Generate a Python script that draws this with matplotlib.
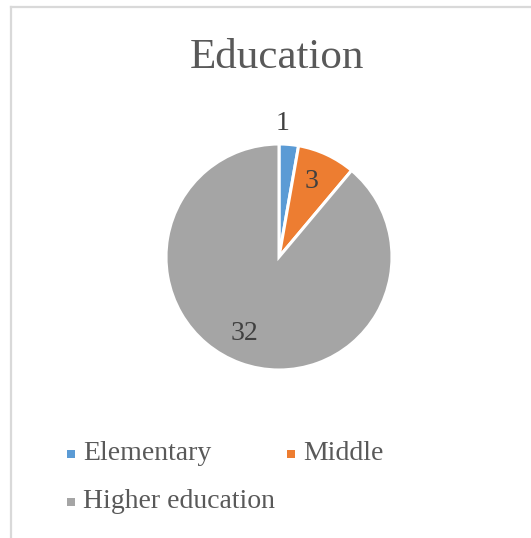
import matplotlib.pyplot as plt
from matplotlib.lines import Line2D

labels = ['Elementary', 'Middle', 'Higher education']
counts = [1, 3, 32]
colors = ['#5B9BD5', '#ED7D31', '#A5A5A5']

plt.rcParams['font.family'] = ['Liberation Serif', 'DejaVu Serif']

W, H = 531, 538
fig = plt.figure(figsize=(W / 100, H / 100), dpi=100)
fig.patch.set_facecolor('white')

# chart frame, only top and left edges are visible
fig.add_artist(Line2D([11 / W, 11 / W], [0, 1 - 7 / H], transform=fig.transFigure,
                      color='#D9D9D9', lw=1.6))
fig.add_artist(Line2D([11 / W, 1], [1 - 7 / H, 1 - 7 / H], transform=fig.transFigure,
                      color='#D9D9D9', lw=1.6))

fig.text(277 / W, 1 - 58 / H, 'Education', ha='center', va='center',
         fontsize=31, color='#595959')

# pie box centred at (279, 257) with radius ~113 px
r = 113
ax = fig.add_axes([(279 - r) / W, 1 - (257 + r) / H, 2 * r / W, 2 * r / H])
wedges, _ = ax.pie(counts, colors=colors, startangle=90, counterclock=False,
                   wedgeprops=dict(edgecolor='white', linewidth=2.2))
ax.set_xlim(-1, 1)
ax.set_ylim(-1, 1)
ax.set_aspect('equal')

# data labels
label_pos = [(283, 124), (312, 182), (244, 333)]
for (x, y), v in zip(label_pos, counts):
    fig.text(x / W, 1 - y / H, str(v), ha='center', va='center',
             fontsize=20, color='#404040')

leg_pos = [(70.5, 454), (290.5, 454), (70.5, 502)]
for (x, y), c, lab in zip(leg_pos, colors, labels):
    fig.patches.append(plt.Rectangle(((x - 4) / W, 1 - (y + 4) / H), 8 / W, 8 / H,
                                     transform=fig.transFigure, facecolor=c,
                                     edgecolor='none'))
    fig.text((x + 12.5) / W, 1 - y / H, lab, ha='left', va='center',
             fontsize=20, color='#595959')

fig.savefig('out.png', dpi=100)
